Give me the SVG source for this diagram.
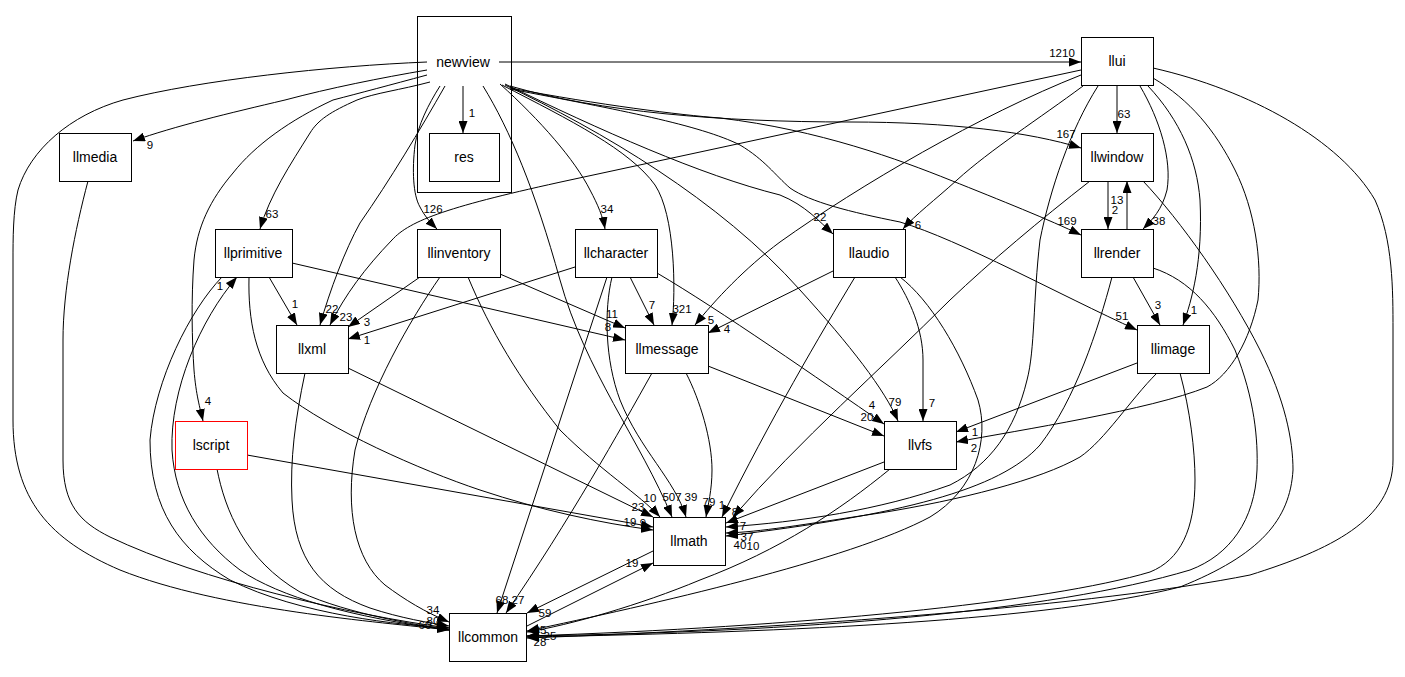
<svg xmlns="http://www.w3.org/2000/svg" width="1405" height="677" viewBox="0 0 1405 677">
<style>
.n{fill:#fff;stroke:#000;stroke-width:1}
.t{font-family:"Liberation Sans",Arial,Helvetica,sans-serif;font-size:14px;text-anchor:middle;fill:#000}
.e path{fill:none;stroke:#000;stroke-width:1;marker-end:url(#a)}
.l{font-family:"Liberation Sans",Arial,Helvetica,sans-serif;font-size:11.5px;text-anchor:middle;fill:#000}
</style>
<defs>
<marker id="a" markerWidth="12" markerHeight="9" refX="12" refY="4.5" orient="auto" markerUnits="userSpaceOnUse"><path d="M0,0 L12,4.5 L0,9 z" fill="#000"/></marker>
</defs>
<rect width="1405" height="677" fill="#fff"/>
<g id="cluster_newview"><rect class="n" x="417.5" y="16.5" width="94" height="176"/></g>
<g id="edges" class="e">
<path d="M463,86 L463,133"/>
<path d="M499,62 L1081,62"/>
<path d="M427,70 C380,78 330,88 285,100 C230,113 175,126 133,141"/>
<path d="M430,82 C400,90 375,93 357,100 C330,112 318,120 310,133 C290,165 270,195 260,229"/>
<path d="M427,75 C390,85 360,93 333,100 C290,120 255,145 233,173 C210,200 197,227 194,260 C191,300 192,340 194,370 C196,395 200,408 203,421"/>
<path d="M440,86 C428,105 418,125 415,145 C412,170 413,195 420,207 C425,217 432,224 437,229"/>
<path d="M445,86 C420,130 390,180 360,223 C345,250 330,290 320,325"/>
<path d="M500,84 C540,120 575,160 590,190 C598,205 603,217 605,229"/>
<path d="M502,85 C570,120 630,150 655,185 C675,215 676,290 672,325"/>
<path d="M483,86 C510,130 535,190 560,280 C585,370 640,440 672,517"/>
<path d="M505,85 C600,130 720,200 800,290 C850,345 885,390 898,421"/>
<path d="M505,84 C600,130 700,175 780,195 C805,205 820,222 833,234"/>
<path d="M510,86 C600,112 720,122 850,122 C950,122 1030,132 1081,148"/>
<path d="M510,88 C600,105 680,115 720,118 C820,130 900,160 950,180 C1000,200 1050,220 1081,235"/>
<path d="M510,89 C620,110 700,125 740,145 C765,160 775,175 790,188 C810,202 850,212 900,222 C960,240 1060,295 1137,330"/>
<path d="M427,62 C330,66 200,80 123,100 C70,115 30,150 18,190 C13,210 13,240 13,260 L13,420 C13,500 50,540 120,570 C220,610 380,622 449,630"/>
<path d="M1117,85 L1117,133"/>
<path d="M1081,70 L570,180 C450,206 410,220 392,240 C365,268 345,295 330,325"/>
<path d="M1081,75 C980,115 860,185 780,242 C745,268 715,300 695,325"/>
<path d="M1083,86 C1040,118 990,150 957,180 C935,200 915,215 903,229"/>
<path d="M1098,86 C1070,130 1050,190 1040,240 C1033,300 1035,350 1027,380 C1015,430 990,465 950,485 C880,510 800,522 726,527"/>
<path d="M1140,86 C1160,120 1172,160 1167,190 C1162,210 1152,220 1143,229"/>
<path d="M1148,86 C1180,120 1197,160 1200,200 C1203,260 1192,300 1183,325"/>
<path d="M1153,78 C1190,100 1215,130 1235,170 C1255,210 1262,260 1258,300 C1250,340 1230,375 1207,387 C1150,410 1020,430 956,442"/>
<path d="M1153,68 C1250,90 1340,140 1375,200 C1393,240 1393,290 1393,330 L1393,460 C1393,520 1330,550 1250,575 C1100,605 800,628 527,638"/>
<path d="M1108,181 L1108,229"/>
<path d="M1090,181 C1040,220 990,262 950,300 C880,370 800,440 733,517"/>
<path d="M1143,181 C1180,220 1230,290 1260,350 C1285,400 1293,440 1293,470 C1290,520 1260,555 1180,587 C1050,620 800,632 527,637"/>
<path d="M1127,229 L1127,181"/>
<path d="M1133,277 L1160,325"/>
<path d="M1112,277 C1098,330 1075,400 1040,445 C1000,490 900,515 726,536"/>
<path d="M1153,268 C1190,280 1215,310 1235,350 C1255,400 1258,440 1257,470 C1255,520 1230,555 1190,570 C1050,612 800,632 527,636"/>
<path d="M1137,363 L956,432"/>
<path d="M1157,373 C1130,400 1105,440 1080,457 C1040,480 960,500 880,513 C800,525 760,532 726,533"/>
<path d="M1180,373 C1190,410 1195,450 1195,480 C1195,530 1180,560 1150,572 C1050,602 800,627 527,636"/>
<path d="M833,271 L708,333"/>
<path d="M895,277 C910,300 923,330 923,360 L923,421"/>
<path d="M855,277 C820,335 770,420 722,517"/>
<path d="M900,277 C930,300 960,350 978,400 C990,440 975,490 930,517 C850,560 650,605 527,631"/>
<path d="M575,267 L348,339"/>
<path d="M630,277 L654,325"/>
<path d="M657,273 C720,310 820,380 884,424"/>
<path d="M612,277 C604,310 605,360 620,400 C640,450 675,480 686,517"/>
<path d="M607,277 L497,613"/>
<path d="M420,277 L348,327"/>
<path d="M500,274 L625,328"/>
<path d="M468,277 C490,330 520,380 560,430 C600,470 640,495 660,517"/>
<path d="M440,277 C410,320 370,390 355,450 C345,510 355,560 385,585 C405,600 425,612 449,622"/>
<path d="M269,277 L297,325"/>
<path d="M292,263 L625,340"/>
<path d="M249,277 C248,320 255,360 283,393 C330,430 420,470 480,490 C540,510 600,523 653,530"/>
<path d="M222,277 C190,310 155,380 150,440 C150,510 180,550 230,580 C300,615 400,625 449,628"/>
<path d="M449,630 C350,617 280,597 240,570 C200,540 175,500 172,450 C170,390 200,320 237,277"/>
<path d="M348,368 L653,517"/>
<path d="M305,373 C295,420 290,460 292,500 C295,560 320,590 370,608 C400,618 430,623 449,626"/>
<path d="M88,181 C75,230 63,290 63,340 L63,460 C63,505 80,522 110,537 C200,580 350,615 449,628"/>
<path d="M247,455 L653,527"/>
<path d="M217,469 C225,510 245,560 300,592 C350,615 420,625 449,630"/>
<path d="M708,366 L884,436"/>
<path d="M686,373 C700,400 712,440 712,470 C712,490 708,505 706,517"/>
<path d="M652,373 C620,430 570,520 506,613"/>
<path d="M884,462 L726,523"/>
<path d="M890,469 C840,510 780,550 700,580 C640,605 570,625 527,632"/>
<path d="M653,551 L527,613"/>
<path d="M527,626 L653,563"/>
</g>
<g id="edge-labels">
<text class="l" x="472" y="117">1</text>
<text class="l" x="1062" y="57">1210</text>
<text class="l" x="150" y="149">9</text>
<text class="l" x="272" y="218">63</text>
<text class="l" x="208" y="405">4</text>
<text class="l" x="433" y="213">126</text>
<text class="l" x="332" y="313">22</text>
<text class="l" x="346" y="321">23</text>
<text class="l" x="607" y="213">34</text>
<text class="l" x="682" y="313">321</text>
<text class="l" x="672" y="501">507</text>
<text class="l" x="895" y="406">79</text>
<text class="l" x="820" y="221">22</text>
<text class="l" x="1066" y="138">167</text>
<text class="l" x="1067" y="225">169</text>
<text class="l" x="1122" y="320">51</text>
<text class="l" x="433" y="614">34</text>
<text class="l" x="433" y="625">80</text>
<text class="l" x="425" y="629">60</text>
<text class="l" x="439" y="629">8</text>
<text class="l" x="1124" y="118">63</text>
<text class="l" x="711" y="324">5</text>
<text class="l" x="918" y="229">6</text>
<text class="l" x="747" y="541">37</text>
<text class="l" x="1159" y="225">38</text>
<text class="l" x="1194" y="314">1</text>
<text class="l" x="974" y="452">2</text>
<text class="l" x="1115" y="214">2</text>
<text class="l" x="1117" y="204">13</text>
<text class="l" x="735" y="516">8</text>
<text class="l" x="1158" y="309">3</text>
<text class="l" x="740" y="549">40</text>
<text class="l" x="975" y="436">1</text>
<text class="l" x="753" y="550">10</text>
<text class="l" x="727" y="333">4</text>
<text class="l" x="932" y="407">7</text>
<text class="l" x="722" y="509">1</text>
<text class="l" x="367" y="344">1</text>
<text class="l" x="652" y="309">7</text>
<text class="l" x="872" y="409">4</text>
<text class="l" x="691" y="501">39</text>
<text class="l" x="502" y="604">68</text>
<text class="l" x="367" y="326">3</text>
<text class="l" x="612" y="318">11</text>
<text class="l" x="650" y="502">10</text>
<text class="l" x="630" y="526">19</text>
<text class="l" x="220" y="290">1</text>
<text class="l" x="638" y="511">23</text>
<text class="l" x="643" y="527">9</text>
<text class="l" x="608" y="331">8</text>
<text class="l" x="295" y="308">1</text>
<text class="l" x="867" y="421">20</text>
<text class="l" x="709" y="506">79</text>
<text class="l" x="518" y="604">27</text>
<text class="l" x="743" y="530">7</text>
<text class="l" x="545" y="617">59</text>
<text class="l" x="632" y="567">19</text>
<text class="l" x="540" y="634">35</text>
<text class="l" x="550" y="640">25</text>
<text class="l" x="540" y="646">28</text>
</g>
<g id="newview"><text class="t" x="463" y="67">newview</text></g>
<g id="res"><rect class="n" x="429.5" y="133.5" width="70" height="48"/><text class="t" x="464" y="162">res</text></g>
<g id="llui"><rect class="n" x="1081.5" y="37.5" width="72" height="48"/><text class="t" x="1117" y="66">llui</text></g>
<g id="llmedia"><rect class="n" x="59.5" y="133.5" width="72" height="48"/><text class="t" x="95" y="162">llmedia</text></g>
<g id="llwindow"><rect class="n" x="1081.5" y="133.5" width="72" height="48"/><text class="t" x="1117" y="162">llwindow</text></g>
<g id="llprimitive"><rect class="n" x="215.5" y="229.5" width="77" height="48"/><text class="t" x="253" y="258">llprimitive</text></g>
<g id="llinventory"><rect class="n" x="417.5" y="229.5" width="83" height="48"/><text class="t" x="459" y="258">llinventory</text></g>
<g id="llcharacter"><rect class="n" x="575.5" y="229.5" width="82" height="48"/><text class="t" x="616" y="258">llcharacter</text></g>
<g id="llaudio"><rect class="n" x="833.5" y="229.5" width="72" height="48"/><text class="t" x="869" y="258">llaudio</text></g>
<g id="llrender"><rect class="n" x="1081.5" y="229.5" width="72" height="48"/><text class="t" x="1117" y="258">llrender</text></g>
<g id="llxml"><rect class="n" x="276.5" y="325.5" width="72" height="48"/><text class="t" x="312" y="354">llxml</text></g>
<g id="llmessage"><rect class="n" x="625.5" y="325.5" width="83" height="48"/><text class="t" x="667" y="354">llmessage</text></g>
<g id="llimage"><rect class="n" x="1137.5" y="325.5" width="72" height="48"/><text class="t" x="1173" y="354">llimage</text></g>
<g id="lscript"><rect x="175.5" y="421.5" width="72" height="48" fill="#fff" stroke="#ff0000"/><text class="t" x="211" y="450">lscript</text></g>
<g id="llvfs"><rect class="n" x="884.5" y="421.5" width="72" height="48"/><text class="t" x="920" y="450">llvfs</text></g>
<g id="llmath"><rect class="n" x="653.5" y="517.5" width="72" height="48"/><text class="t" x="689" y="546">llmath</text></g>
<g id="llcommon"><rect class="n" x="449.5" y="613.5" width="77" height="48"/><text class="t" x="488" y="642">llcommon</text></g>
</svg>
